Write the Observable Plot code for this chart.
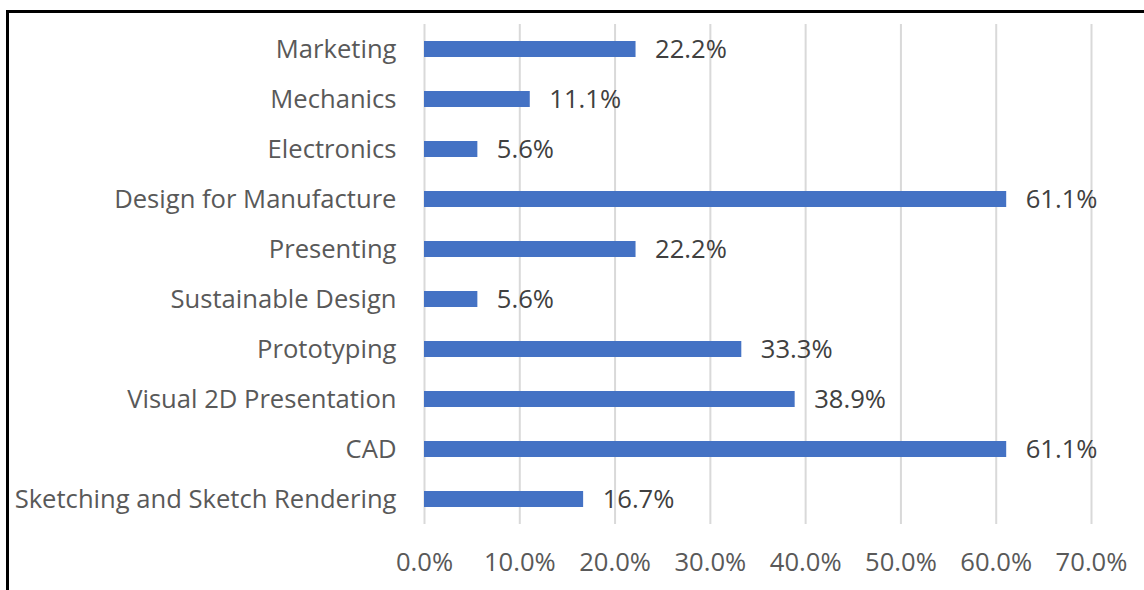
<!DOCTYPE html>
<html>
<head>
<meta charset="utf-8">
<script src="https://cdn.jsdelivr.net/npm/d3@7"></script>
<script src="https://cdn.jsdelivr.net/npm/@observablehq/plot@0.6"></script>
<style>
  html, body { margin: 0; padding: 0; background: #fff; }
  #wrap { position: relative; width: 1144px; height: 590px; overflow: hidden; }
  #frame { position: absolute; left: 6px; top: 10px; width: 1200px; height: 700px;
           border-top: 3px solid #000; border-left: 3px solid #000; box-sizing: border-box; pointer-events: none; }
  svg { position: absolute; left: 0; top: 0; }
</style>
</head>
<body>
<div id="wrap"><div id="frame"></div></div>
<script>
const categories = [
  "Marketing",
  "Mechanics",
  "Electronics",
  "Design for Manufacture",
  "Presenting",
  "Sustainable Design",
  "Prototyping",
  "Visual 2D Presentation",
  "CAD",
  "Sketching and Sketch Rendering"
];
const values = [0.222, 0.111, 0.056, 0.611, 0.222, 0.056, 0.333, 0.389, 0.611, 0.167];
const xTicks = [0, 0.1, 0.2, 0.3, 0.4, 0.5, 0.6, 0.7];

const data = categories.map((c, i) => ({category: c, value: values[i]}));
const fmt = d => (d * 100).toFixed(1) + "%";

const chart = Plot.plot({
  width: 1144,
  height: 590,
  marginLeft: 424,
  marginRight: 53,
  marginTop: 24,
  marginBottom: 66,
  style: {fontFamily: "'Open Sans', sans-serif", fontSize: "25.6px", color: "#595959", background: "transparent", overflow: "visible"},
  x: {domain: [0, 0.7], ticks: xTicks, tickFormat: fmt, label: null},
  y: {domain: categories, paddingInner: 0.67, paddingOuter: 0.335, align: 0.5, label: null},
  marks: [
    Plot.gridX(xTicks, {stroke: "#d9d9d9", strokeOpacity: 1, strokeWidth: 2}),
    Plot.barX(data, {x: "value", y: "category", fill: "#4472c4"}),
    Plot.text(data, {x: "value", y: "category", text: d => fmt(d.value), textAnchor: "start", dx: 19, fill: "#404040", fontSize: 25.6}),
    Plot.axisX(xTicks, {tickSize: 0, tickPadding: 28, tickFormat: fmt, fontSize: 25.6, fill: "#595959", label: null}),
    Plot.axisY({tickSize: 0, tickPadding: 28, fontSize: 25.6, fill: "#595959", label: null})
  ]
});
document.getElementById("wrap").appendChild(chart);
</script>
</body>
</html>
